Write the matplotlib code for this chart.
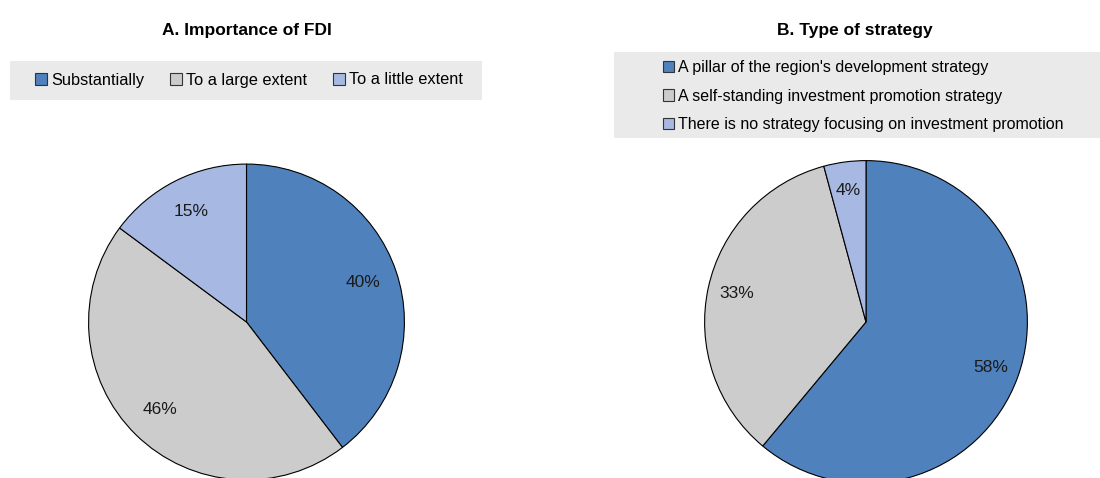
import matplotlib.pyplot as plt
from matplotlib.patches import Patch, Rectangle

plt.rcParams['font.family'] = ['Liberation Sans', 'DejaVu Sans']

# Panel A
fdi_labels = ['Substantially', 'To a large extent', 'To a little extent']
fdi_values = [40, 46, 15]

# Panel B
strat_labels = ["A pillar of the region's development strategy",
                'A self-standing investment promotion strategy',
                'There is no strategy focusing on investment promotion']
strat_values = [58, 33, 4]

colors = ['#4F81BD', '#CCCCCC', '#A7B9E3']

W, H = 1100, 478
fig = plt.figure(figsize=(W / 100, H / 100), dpi=100)


def px_axes(cx, cy, r):
    # square axes centred on (cx, cy) in pixels, top-left origin
    return fig.add_axes([(cx - r) / W, 1 - (cy + r) / H, 2 * r / W, 2 * r / H])


def draw_pie(ax, values, dist):
    wedges, texts = ax.pie(values, colors=colors, startangle=90, counterclock=False,
                           labels=[f'{v}%' for v in values], labeldistance=dist,
                           wedgeprops=dict(edgecolor='black', linewidth=0.8),
                           textprops=dict(fontsize=12.5, color='#1a1a1a'))
    for t in texts:
        t.set_ha('center')
        t.set_va('center')
    ax.set_xlim(-1.01, 1.01)
    ax.set_ylim(-1.01, 1.01)
    ax.axis('off')


ax1 = px_axes(246.5, 322, 159.5)
draw_pie(ax1, fdi_values, 0.78)
ax2 = px_axes(866, 322, 163)
draw_pie(ax2, strat_values, 0.82)

# titles
fig.text(247 / W, 1 - 30 / H, 'A. Importance of FDI', ha='center', va='center',
         fontsize=12.5, fontweight='bold')
fig.text(855 / W, 1 - 30 / H, 'B. Type of strategy', ha='center', va='center',
         fontsize=12.5, fontweight='bold')

# legend backgrounds
fig.patches.append(Rectangle((10 / W, 1 - 100 / H), 472 / W, 39 / H,
                             transform=fig.transFigure, facecolor='#EAEAEA',
                             edgecolor='none', zorder=0))
fig.patches.append(Rectangle((614 / W, 1 - 138 / H), 486 / W, 86 / H,
                             transform=fig.transFigure, facecolor='#EAEAEA',
                             edgecolor='none', zorder=0))

handles = [Patch(facecolor=c, edgecolor='#333333', linewidth=0.8) for c in colors]

fig.legend(handles, fdi_labels, loc='center', bbox_to_anchor=(249 / W, 1 - 80 / H),
           ncol=3, frameon=False, fontsize=11.8, handlelength=0.7, handleheight=0.7,
           handletextpad=0.25, columnspacing=1.6, borderpad=0)

fig.legend(handles, strat_labels, loc='center left', bbox_to_anchor=(655 / W, 1 - 96 / H),
           ncol=1, frameon=False, fontsize=11.5, handlelength=0.7, handleheight=0.7,
           handletextpad=0.25, labelspacing=0.85, borderpad=0)

fig.savefig('out.png', dpi=100, facecolor='white')
